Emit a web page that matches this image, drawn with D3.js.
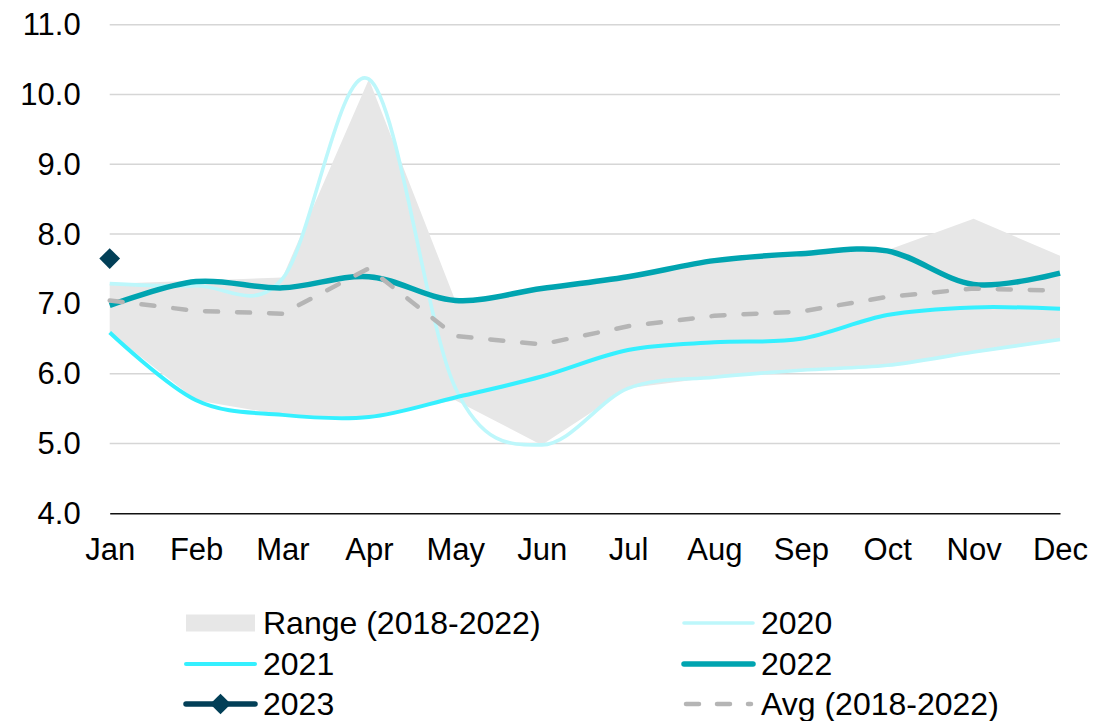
<!DOCTYPE html>
<html lang="en">
<head>
    <meta charset="UTF-8">
    <title>monthly range chart</title>
    <style>
        body { margin: 0; background: #fff; }
        text { font-family: "Liberation Sans", Arial, sans-serif; fill: #000; }
    </style>
</head>
<body>
<script src="https://cdn.jsdelivr.net/npm/d3@7"></script>
<script>
    var months = ["Jan","Feb","Mar","Apr","May","Jun","Jul","Aug","Sep","Oct","Nov","Dec"];
    var rangeLow  = [6.59, 5.62, 5.41, 5.38, 5.62, 4.98, 5.79, 5.95, 6.05, 6.12, 6.31, 6.49];
    var rangeHigh = [7.29, 7.33, 7.38, 10.22, 7.05, 7.22, 7.39, 7.62, 7.72, 7.77, 8.22, 7.69];
    var y2020 = [7.29, 7.26, 7.36, 10.22, 5.80, 4.98, 5.79, 5.95, 6.05, 6.12, 6.31, 6.49];
    var y2021 = [6.59, 5.62, 5.41, 5.38, 5.66, 5.96, 6.34, 6.45, 6.50, 6.84, 6.95, 6.93];
    var y2022 = [6.98, 7.32, 7.23, 7.39, 7.05, 7.22, 7.39, 7.62, 7.72, 7.76, 7.28, 7.44];
    var y2023 = [7.65];
    var avg   = [7.05, 6.90, 6.86, 7.51, 6.54, 6.42, 6.68, 6.83, 6.89, 7.10, 7.22, 7.19];
    var yTicks = [4, 5, 6, 7, 8, 9, 10, 11];

    var fontSize = "31px";
    var svg = d3.select("body").append("svg").attr("width", 1116).attr("height", 721);

    var plotL = 109.7, plotR = 1060, plotT = 24.7, plotB = 513.3;
    var x = d3.scalePoint().domain(months).range([plotL, plotR]);
    var y = d3.scaleLinear().domain([4, 11]).range([plotB, plotT]);

    // gridlines
    svg.append("g").selectAll("line").data(yTicks.slice(1)).enter().append("line")
        .attr("x1", plotL).attr("x2", plotR)
        .attr("y1", function(d){ return y(d); }).attr("y2", function(d){ return y(d); })
        .attr("stroke", "#d6d6d6").attr("stroke-width", 1.5);

    // y labels
    var yAxis = svg.append("g").attr("transform", "translate(" + plotL + ",0)")
        .call(d3.axisLeft(y).tickValues(yTicks).tickFormat(d3.format(".1f")).tickSize(0).tickPadding(29));
    yAxis.select(".domain").remove();
    yAxis.selectAll("text").style("font-size", fontSize).style("font-family", "'Liberation Sans', Arial, sans-serif").attr("fill", "#000");

    // range area
    var idx = d3.range(months.length);
    svg.append("path").datum(idx)
        .attr("fill", "#e7e7e7")
        .attr("d", d3.area()
            .x(function(i){ return x(months[i]); })
            .y0(function(i){ return y(rangeLow[i]); })
            .y1(function(i){ return y(rangeHigh[i]); }));

    var smooth = d3.line()
        .x(function(d, i){ return x(months[i]); })
        .y(function(d){ return y(d); })
        .curve(d3.curveCardinal.tension(0));

    svg.append("path").datum(y2020).attr("d", smooth)
        .attr("fill", "none").attr("stroke", "#bdf7fb").attr("stroke-width", 3.6);
    svg.append("path").datum(y2021).attr("d", smooth)
        .attr("fill", "none").attr("stroke", "#35f0ff").attr("stroke-width", 4);
    svg.append("path").datum(y2022).attr("d", smooth)
        .attr("fill", "none").attr("stroke", "#00a4b0").attr("stroke-width", 5.5);

    // x axis
    var xAxis = svg.append("g").attr("transform", "translate(0," + plotB + ")")
        .call(d3.axisBottom(x).tickSize(0).tickSizeOuter(0).tickPadding(25));
    xAxis.select(".domain").attr("stroke", "#111").attr("stroke-width", 1.6);
    xAxis.selectAll("text").style("font-size", fontSize).style("font-family", "'Liberation Sans', Arial, sans-serif").attr("fill", "#000");

    var diamond = d3.symbol().type(d3.symbolSquare).size(215);
    svg.append("g").selectAll("path").data(y2023).enter().append("path")
        .attr("d", diamond)
        .attr("transform", function(d, i){ return "translate(" + x(months[i]) + "," + y(d) + ") rotate(45)"; })
        .attr("fill", "#023f57");

    var straight = d3.line()
        .x(function(d, i){ return x(months[i]); })
        .y(function(d){ return y(d); });
    svg.append("path").datum(avg).attr("d", straight)
        .attr("fill", "none").attr("stroke", "#b5b5b5").attr("stroke-width", 4.5)
        .attr("stroke-dasharray", "13,19").attr("stroke-linecap", "round").attr("stroke-linejoin", "round");

    // legend
    var legend = [
        {name: "Range (2018-2022)", type: "area", col: 0, row: 0},
        {name: "2020", type: "line", color: "#bdf7fb", w: 3.6, col: 1, row: 0},
        {name: "2021", type: "line", color: "#35f0ff", w: 4, col: 0, row: 1},
        {name: "2022", type: "line", color: "#00a4b0", w: 5.5, col: 1, row: 1},
        {name: "2023", type: "marker", color: "#023f57", w: 5.5, col: 0, row: 2},
        {name: "Avg (2018-2022)", type: "dash", color: "#b5b5b5", w: 4.5, col: 1, row: 2}
    ];
    var colX = [186, 684], rowY = [623, 664, 704], swW = 69;
    var lg = svg.selectAll(".lg").data(legend).enter().append("g")
        .attr("transform", function(d){ return "translate(" + colX[d.col] + "," + rowY[d.row] + ")"; });
    lg.each(function(d){
        var g = d3.select(this);
        if (d.type === "area") {
            g.append("rect").attr("x", 0).attr("y", -8.5).attr("width", swW).attr("height", 17).attr("fill", "#e7e7e7");
        } else {
            var l = g.append("line").attr("x1", 0).attr("x2", swW).attr("y1", 0).attr("y2", 0)
                .attr("stroke", d.color).attr("stroke-width", d.w).attr("stroke-linecap", "round");
            if (d.type === "dash") l.attr("stroke-dasharray", "13,18").attr("x1", 2).attr("x2", swW - 2);
            if (d.type === "marker") {
                g.append("path").attr("d", diamond).attr("transform", "translate(" + swW / 2 + ",0) rotate(45)").attr("fill", d.color);
            }
        }
        g.append("text").attr("x", swW + 8).attr("y", 0).attr("dy", "0.35em")
            .style("font-size", "32px").text(d.name);
    });
</script>
</body>
</html>
